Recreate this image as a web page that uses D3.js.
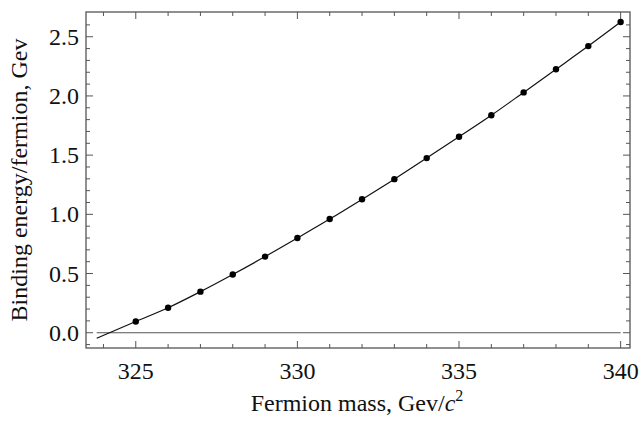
<!doctype html>
<html>
<head>
<meta charset="UTF-8">
<title>Binding energy</title>
<script src="https://d3js.org/d3.v7.min.js"></script>
<style>
  body { margin: 0; background: #fff; }
</style>
</head>
<body>
<script>
// fermion mass (Gev/c^2) and binding energy per fermion (Gev) for the dots
var masses = [325, 326, 327, 328, 329, 330, 331, 332, 333, 334, 335, 336, 337, 338, 339, 340];
var energies = [0.095, 0.211, 0.347, 0.492, 0.643, 0.800, 0.960, 1.127, 1.297, 1.475, 1.655, 1.837, 2.030, 2.225, 2.421, 2.624];
// fitted curve, starts a bit left of the first point
var fitX = [323.79, 325, 326, 327, 328, 329, 330, 331, 332, 333, 334, 335, 336, 337, 338, 339, 340];
var fitY = [-0.047, 0.095, 0.211, 0.347, 0.492, 0.643, 0.800, 0.960, 1.127, 1.297, 1.475, 1.655, 1.837, 2.030, 2.225, 2.421, 2.624];
var xTicks = [325, 330, 335, 340];
var yTicks = [0.0, 0.5, 1.0, 1.5, 2.0, 2.5];

var w = 641, h = 423;
var pl = 86, pr = 630, pt = 12, pb = 348;
var font = "'Liberation Serif', 'Times New Roman', 'DejaVu Serif', serif";

var svg = d3.select("body").append("svg").attr("width", w).attr("height", h)
  .attr("font-family", font);

var x = d3.scaleLinear().domain([323.46, 340.29]).range([pl, pr]);
var y = d3.scaleLinear().domain([-0.129, 2.709]).range([pb, pt]);

var axisColor = "#555";
var fs = 24;

// minor + major ticks, all four sides, pointing in
var xMinor = d3.range(324, 341, 1);
var yMinor = d3.range(-1, 27, 1).map(function(d){ return d / 10; });

function isMajorX(v){ return v % 5 === 0; }
function isMajorY(v){ return Math.abs(v * 2 - Math.round(v * 2)) < 1e-6; }

var g = svg.append("g");
xMinor.forEach(function(v){
  var len = isMajorX(v) ? 7 : 4;
  g.append("line").attr("x1", x(v)).attr("x2", x(v)).attr("y1", pb).attr("y2", pb - len)
    .attr("stroke", axisColor).attr("stroke-width", 1);
  g.append("line").attr("x1", x(v)).attr("x2", x(v)).attr("y1", pt).attr("y2", pt + len)
    .attr("stroke", axisColor).attr("stroke-width", 1);
});
yMinor.forEach(function(v){
  var len = isMajorY(v) ? 7 : 4;
  g.append("line").attr("x1", pl).attr("x2", pl + len).attr("y1", y(v)).attr("y2", y(v))
    .attr("stroke", axisColor).attr("stroke-width", 1);
  g.append("line").attr("x1", pr).attr("x2", pr - len).attr("y1", y(v)).attr("y2", y(v))
    .attr("stroke", axisColor).attr("stroke-width", 1);
});

// frame
svg.append("rect").attr("x", pl).attr("y", pt).attr("width", pr - pl).attr("height", pb - pt)
  .attr("fill", "none").attr("stroke", axisColor).attr("stroke-width", 1.3);

// tick labels
svg.selectAll(".xl").data(xTicks).enter().append("text")
  .attr("x", function(d){ return x(d); }).attr("y", 379)
  .attr("text-anchor", "middle").attr("font-size", fs).attr("fill", "#111")
  .text(function(d){ return d; });
svg.selectAll(".yl").data(yTicks).enter().append("text")
  .attr("x", 79).attr("y", function(d){ return y(d) + 8; })
  .attr("text-anchor", "end").attr("font-size", fs).attr("fill", "#111")
  .text(function(d){ return d.toFixed(1); });

// zero line
svg.append("line").attr("x1", x(fitX[0])).attr("x2", x(340)).attr("y1", y(0)).attr("y2", y(0))
  .attr("stroke", "#555").attr("stroke-width", 1.2);

// curve
var line = d3.line().x(function(d){ return x(d[0]); }).y(function(d){ return y(d[1]); }).curve(d3.curveMonotoneX);
svg.append("path").datum(d3.zip(fitX, fitY)).attr("d", line)
  .attr("fill", "none").attr("stroke", "#111").attr("stroke-width", 1.2);

// dots
svg.selectAll("circle").data(d3.zip(masses, energies)).enter().append("circle")
  .attr("cx", function(d){ return x(d[0]); }).attr("cy", function(d){ return y(d[1]); })
  .attr("r", 3.2).attr("fill", "#000");

// axis titles
var xt = svg.append("text").attr("x", 357).attr("y", 411).attr("text-anchor", "middle")
  .attr("font-size", fs).attr("fill", "#111");
xt.append("tspan").text("Fermion mass, Gev/");
xt.append("tspan").attr("font-style", "italic").text("c");
xt.append("tspan").attr("font-size", 16).attr("dy", -10).text("2");

svg.append("text").attr("transform", "translate(27," + ((pt + pb) / 2) + ") rotate(-90)")
  .attr("text-anchor", "middle").attr("font-size", fs).attr("fill", "#111")
  .text("Binding energy/fermion, Gev");
</script>
</body>
</html>
